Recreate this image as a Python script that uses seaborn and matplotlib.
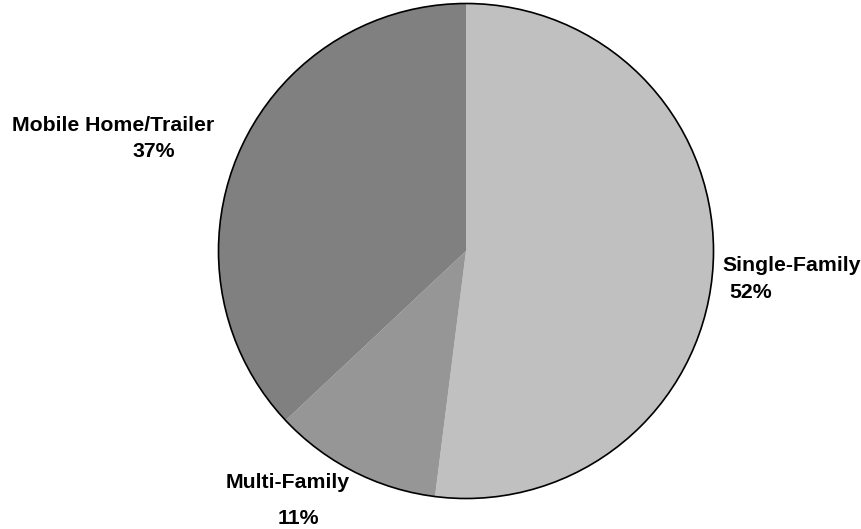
import matplotlib
matplotlib.use("Agg")
import matplotlib.pyplot as plt
import seaborn as sns

categories = ["Single-Family", "Multi-Family", "Mobile Home/Trailer"]
shares = [52, 11, 37]
pct_labels = ["52%", "11%", "37%"]
colors = ["#C0C0C0", "#969696", "#808080"]

sns.set_theme(style="white")
plt.rcParams["font.family"] = ["Liberation Sans", "DejaVu Sans"]

W, H = 862, 529
fig = plt.figure(figsize=(W / 100, H / 100), dpi=100)
ax = fig.add_axes([0, 0, 1, 1])

# pie geometry in pixels
cx, cy, r = 466, 251, 247.5

wedges, _ = ax.pie(shares, colors=colors, startangle=90, counterclock=False,
                   radius=1, wedgeprops=dict(linewidth=0))
ax.add_patch(plt.Circle((0, 0), 1, fill=False, edgecolor="black", linewidth=1.2))

ax.set_xlim((0 - cx) / r, (W - cx) / r)
ax.set_ylim(-(H - cy) / r, cy / r)
ax.set_aspect("equal")
ax.axis("off")


def px(x, y):
    return (x - cx) / r, (cy - y) / r


label_pos = {
    "Single-Family": ((792, 265), (751, 292)),
    "Multi-Family": ((288, 483), (298, 519)),
    "Mobile Home/Trailer": ((113, 125), (154, 151)),
}
for name, pct in zip(categories, pct_labels):
    (nx, ny), (px_, py_) = label_pos[name]
    ax.text(*px(nx, ny), name, ha="center", va="center", fontsize=15.3,
            fontweight="bold", color="black")
    ax.text(*px(px_, py_), pct, ha="center", va="center", fontsize=15.3,
            fontweight="bold", color="black")

fig.savefig("out.png", dpi=100, facecolor="white")
